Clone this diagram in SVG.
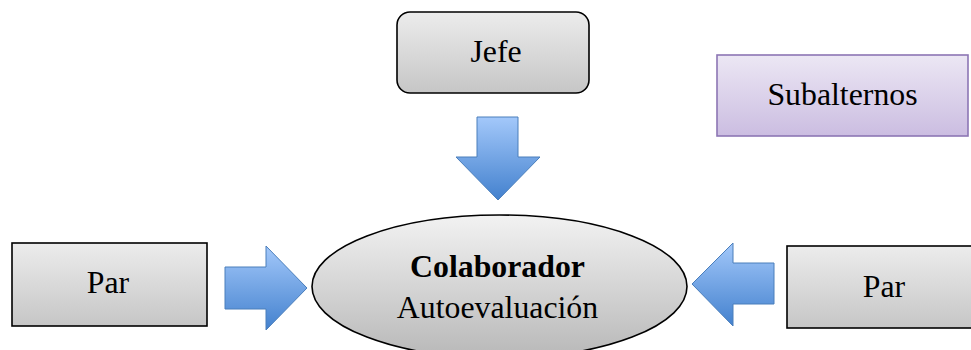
<svg xmlns="http://www.w3.org/2000/svg" width="971" height="350" viewBox="0 0 971 350">
  <defs>
    <linearGradient id="grayFill" x1="0" y1="0" x2="0" y2="1">
      <stop offset="0" stop-color="#ECECEC"/>
      <stop offset="1" stop-color="#C6C6C6"/>
    </linearGradient>
    <linearGradient id="ovalFill" x1="0" y1="0" x2="0" y2="1">
      <stop offset="0" stop-color="#F2F2F2"/>
      <stop offset="1" stop-color="#B8B8B8"/>
    </linearGradient>
    <linearGradient id="lilacFill" x1="0" y1="0" x2="0" y2="1">
      <stop offset="0" stop-color="#ECE7F4"/>
      <stop offset="1" stop-color="#CBBDE1"/>
    </linearGradient>
    <linearGradient id="blueFill" x1="0" y1="0" x2="0" y2="1">
      <stop offset="0" stop-color="#A3C8FA"/>
      <stop offset="1" stop-color="#4381CE"/>
    </linearGradient>
  </defs>
  <style>
    .box { fill: url(#grayFill); stroke: #000; stroke-width: 1.6; }
    .lilac { fill: url(#lilacFill); stroke: #8D76B4; stroke-width: 1.6; }
    .oval { fill: url(#ovalFill); stroke: #000; stroke-width: 1.6; }
    .arrow { fill: url(#blueFill); stroke: #4A7EBB; stroke-width: 1; }
    .lbl { font-family: "Liberation Serif", "Times New Roman", serif; font-size: 31.8px; fill: #000; text-anchor: middle; }
    .bold { font-weight: bold; }
  </style>

  <rect width="971" height="350" fill="#FFFFFF"/>

  <g id="jefe">
    <rect class="box" x="397" y="12" width="192" height="81" rx="13" ry="13"/>
    <text class="lbl" x="496" y="62">Jefe</text>
  </g>

  <g id="subalternos">
    <rect class="lilac" x="717" y="55" width="251" height="81"/>
    <text class="lbl" x="842.5" y="105">Subalternos</text>
  </g>

  <g id="par-izquierda">
    <rect class="box" x="12" y="243" width="195" height="83"/>
    <text class="lbl" x="108" y="293">Par</text>
  </g>

  <g id="par-derecha">
    <rect class="box" x="787" y="246" width="190" height="82"/>
    <text class="lbl" x="884" y="297">Par</text>
  </g>

  <g id="colaborador">
    <ellipse class="oval" cx="499.5" cy="286.5" rx="187.5" ry="71.5"/>
    <text class="lbl bold" x="497.5" y="277">Colaborador</text>
    <text class="lbl" x="497.5" y="318">Autoevaluación</text>
  </g>

  <g id="connectors">
    <!-- block arrow from Jefe down to the oval -->
    <polygon class="arrow" points="477,117 518,117 518,157 540,157 498,200 456,157 477,157"/>
    <!-- block arrow from the left Par towards the oval -->
    <polygon class="arrow" points="225,267 266,267 266,246 307,288 266,330 266,309 225,309"/>
    <!-- block arrow from the right Par towards the oval -->
    <polygon class="arrow" points="774,263 733,263 733,243 692,284 733,326 733,304 774,304"/>
  </g>
</svg>
